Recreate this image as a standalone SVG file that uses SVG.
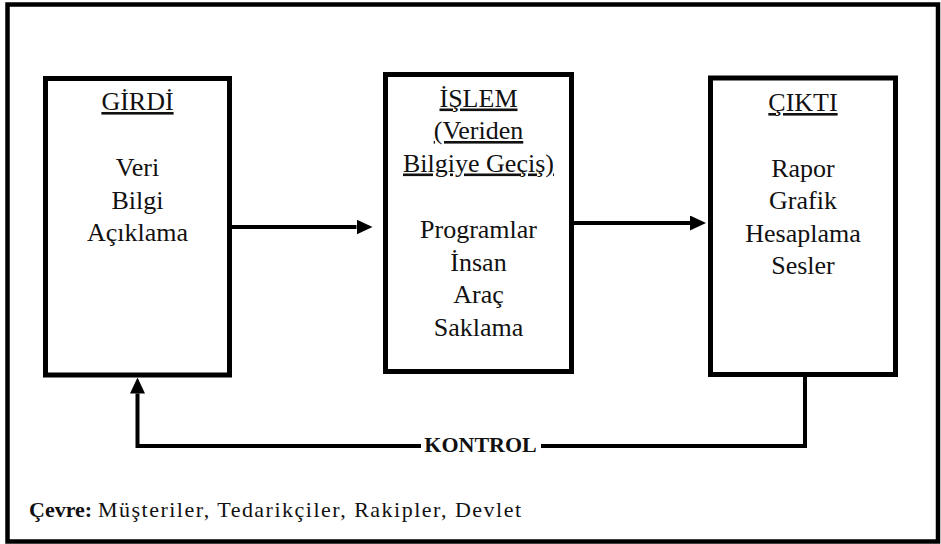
<svg xmlns="http://www.w3.org/2000/svg" width="941" height="544" viewBox="0 0 941 544">
<defs>
<style>
.frame{fill:none;stroke:#000;stroke-width:4.5}
.box{fill:#fff;stroke:#000;stroke-width:5}
.conn{fill:none;stroke:#000;stroke-width:4;stroke-linejoin:miter}
text{font-family:'Liberation Serif','Tinos','Times New Roman','DejaVu Serif',serif;fill:#111}
.t{font-size:26px;text-anchor:middle}
.u{text-decoration:underline}
.k{font-size:22px;font-weight:bold;text-anchor:middle}
.env{font-size:22px}
</style>
<marker id="ah" markerUnits="userSpaceOnUse" markerWidth="16" markerHeight="15" refX="0" refY="7.5" orient="auto" viewBox="0 0 16 15">
<path d="M0,0 L16,7.5 L0,15 z" fill="#000"/>
</marker>
</defs>
<rect width="941" height="544" fill="#fff"/>
<rect class="frame" x="7.5" y="4.5" width="930.5" height="537"/>

<g id="girdi">
<rect class="box" x="45.5" y="78.5" width="184" height="296.5"/>
<text class="t u" x="137.5" y="110">GİRDİ</text>
<text class="t" x="137.5" y="176">Veri</text>
<text class="t" x="137.5" y="208.5">Bilgi</text>
<text class="t" x="137.5" y="241">Açıklama</text>
</g>

<g id="islem">
<rect class="box" x="385.5" y="74.5" width="186" height="297"/>
<text class="t u" x="478.5" y="106.5">İŞLEM</text>
<text class="t u" x="478.5" y="139">(Veriden</text>
<text class="t u" x="478.5" y="171.5">Bilgiye Geçiş)</text>
<text class="t" x="478.5" y="238">Programlar</text>
<text class="t" x="478.5" y="270.5">İnsan</text>
<text class="t" x="478.5" y="303">Araç</text>
<text class="t" x="478.5" y="336">Saklama</text>
</g>

<g id="cikti">
<rect class="box" x="710.5" y="78" width="185" height="296.5"/>
<text class="t u" x="803" y="111">ÇIKTI</text>
<text class="t" x="803" y="176.5">Rapor</text>
<text class="t" x="803" y="209">Grafik</text>
<text class="t" x="803" y="241.5">Hesaplama</text>
<text class="t" x="803" y="274">Sesler</text>
</g>

<g id="connectors">
<line class="conn" x1="230" y1="227" x2="356.5" y2="227" marker-end="url(#ah)"/>
<line class="conn" x1="573" y1="223" x2="690" y2="223" marker-end="url(#ah)"/>
<polyline class="conn" points="805,377 805,446 541,446"/>
<polyline class="conn" points="421,446 137.5,446 137.5,393.5" marker-end="url(#ah)"/>
<text class="k" x="480.5" y="452">KONTROL</text>
</g>

<g id="cevre">
<text class="env" x="29" y="517" font-weight="bold">Çevre:</text>
<text class="env" x="98" y="517" textLength="423" lengthAdjust="spacing">Müşteriler, Tedarikçiler, Rakipler, Devlet</text>
</g>
</svg>
